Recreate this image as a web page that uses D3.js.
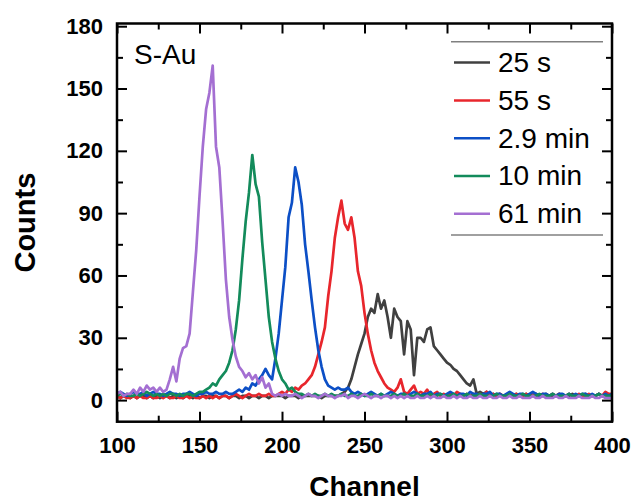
<!DOCTYPE html>
<html><head><meta charset="utf-8">
<script src="https://cdn.jsdelivr.net/npm/d3@7/dist/d3.min.js"></script>
<style>
html,body{margin:0;padding:0;background:#fff;}
svg{display:block;font-family:"Liberation Sans",Arial,Helvetica,sans-serif;}
</style></head>
<body><svg id="chart" width="634" height="504"></svg>
<script>
// Channel grid (step 2)
const channels = d3.range(100, 401, 2);
const seriesNames = ["25 s", "55 s", "2.9 min", "10 min", "61 min"];
const seriesColors = ["#404040", "#e8262c", "#0c4fc6", "#138b5b", "#a46fd2"];
const xTicks = [100, 150, 200, 250, 300, 350, 400];
const xMinorTicks = [125, 175, 225, 275, 325, 375];
const yTicks = [0, 30, 60, 90, 120, 150, 180];
const yMinorTicks = [15, 45, 75, 105, 135, 165];

const counts25s = [
  2,1,2,2,1,2,1,2,2,1,
  2,1,2,1,2,2,1,2,1,2,
  1,2,2,1,2,1,2,2,1,2,
  2,1,2,2,1,2,2,1,2,2,
  1,2,2,1,2,2,1,2,2,2,
  2,1,2,2,2,1,2,2,2,2,
  2,2,1,2,2,2,2,2,3,4,
  6,10,16,22,27,32,40,44,42,51,
  44,48,40,30,44,40,38,22,38,34,
  12,30,30,28,34,35,26,24,22,20,
  18,17,15,14,12,10,8,7,10,3,
  4,3,4,2,3,2,3,2,2,3,
  2,3,2,2,3,2,2,3,2,2,
  3,2,2,2,3,2,2,2,3,2,
  2,2,3,2,2,2,3,2,2,2,
  2];
const counts55s = [
  2,1,2,1,1,2,1,2,1,1,
  2,1,1,2,1,2,1,1,2,1,
  1,2,1,2,1,1,2,1,2,1,
  2,1,2,2,1,2,3,2,1,2,
  3,2,2,3,2,2,3,2,2,3,
  4,3,5,4,6,5,7,8,10,12,
  16,22,28,35,50,62,78,88,96,85,
  82,88,78,62,55,42,32,24,18,14,
  11,8,6,5,4,6,10,4,3,5,
  7,3,4,3,5,2,3,4,2,3,
  2,3,2,4,3,2,3,2,3,2,
  3,2,4,2,3,2,3,2,2,3,
  2,3,2,2,3,2,3,2,2,3,
  2,2,3,2,3,2,2,3,2,2,
  3,2,2,3,2,2,3,2,4,3,
  3];
const counts29min = [
  3,4,3,2,3,4,3,3,4,2,
  3,4,3,3,2,3,4,3,3,2,
  3,3,4,3,2,3,3,4,3,3,
  4,3,3,4,3,3,4,5,4,6,
  5,8,7,10,12,15,12,10,20,32,
  48,64,88,95,112,105,94,75,62,48,
  35,24,16,10,7,6,5,6,5,5,
  6,4,3,4,3,2,3,4,3,2,
  3,2,3,4,3,2,3,3,2,3,
  4,3,2,3,3,4,2,3,3,2,
  3,4,3,2,3,3,2,4,3,3,
  2,3,3,4,2,3,3,2,3,4,
  3,2,3,3,2,3,4,3,2,3,
  3,2,3,2,3,3,2,3,2,3,
  2,3,3,2,3,2,3,2,3,2,
  3];
const counts10min = [
  2,3,2,3,2,2,3,2,3,4,
  3,2,3,2,3,2,3,3,2,3,
  2,3,3,2,3,4,4,5,6,8,
  7,10,12,14,18,24,34,48,68,86,
  100,118,104,98,76,58,40,28,20,14,
  10,8,5,6,4,3,3,2,3,2,
  3,2,2,3,2,3,2,2,3,2,
  2,3,2,2,3,2,2,3,2,2,
  3,2,2,2,3,2,2,3,2,2,
  2,3,2,2,2,3,2,2,3,2,
  2,2,3,2,2,2,3,2,2,2,
  3,2,2,2,2,3,2,2,2,3,
  2,2,2,3,2,2,2,2,3,2,
  2,2,3,2,2,2,2,3,2,2,
  2,3,2,2,2,2,3,2,2,2,
  2];
const counts61min = [
  3,4,2,3,3,5,3,6,4,7,
  5,6,4,6,4,5,10,16,9,20,
  25,26,32,52,72,98,122,140,148,161,
  122,112,86,58,40,29,21,16,14,11,
  13,10,12,8,11,6,8,3,2,3,
  2,3,2,2,3,2,1,2,3,2,
  2,1,2,3,2,2,1,2,2,3,
  1,2,2,1,2,3,2,1,2,2,
  1,2,2,1,2,1,2,1,2,1,
  1,2,1,1,2,1,2,1,1,2,
  1,1,2,1,2,1,1,2,1,1,
  2,1,1,2,1,1,2,1,1,2,
  1,1,2,1,1,1,2,1,1,2,
  1,1,1,2,1,1,2,1,1,1,
  2,1,1,1,2,1,1,2,1,1,
  1];
const seriesValues = [counts25s, counts55s, counts29min, counts10min, counts61min];

const svg = d3.select("#chart");
const L = 117, R = 612, T = 23.5, B = 421.7;
const x = d3.scaleLinear().domain([100, 400]).range([L, R]);
const y = d3.scaleLinear().domain([-10.4, 181.3]).range([B, T]);

// lines
const clipId = "plotclip";
svg.append("clipPath").attr("id", clipId).append("rect")
  .attr("x", L).attr("y", T).attr("width", R - L).attr("height", B - T);
const line = d3.line().x((d, i) => x(channels[i])).y(d => y(d));
const g = svg.append("g").attr("clip-path", `url(#${clipId})`);
seriesValues.forEach((vals, k) => {
  g.append("path").datum(vals)
    .attr("d", line)
    .attr("fill", "none")
    .attr("stroke", seriesColors[k])
    .attr("stroke-width", 2.7)
    .attr("stroke-linejoin", "round");
});

// axes
function styleAxis(sel) {
  sel.select(".domain").remove();
  sel.selectAll(".tick line").attr("stroke", "#000").attr("stroke-width", 2);
  sel.selectAll(".tick text").attr("fill", "#000")
    .style("font-family", '"Liberation Sans",Arial,sans-serif')
    .style("font-weight", "bold").style("font-size", "22px");
}
svg.append("g").attr("transform", `translate(0,${B})`)
  .call(d3.axisBottom(x).tickValues(xTicks).tickSize(-10).tickPadding(16).tickFormat(d3.format("d")))
  .call(styleAxis);
svg.append("g").attr("transform", `translate(0,${B})`)
  .call(d3.axisBottom(x).tickValues(xMinorTicks).tickSize(-6).tickFormat(""))
  .call(styleAxis);
svg.append("g").attr("transform", `translate(0,${T})`)
  .call(d3.axisTop(x).tickValues(xTicks).tickSize(-10).tickFormat(""))
  .call(styleAxis);
svg.append("g").attr("transform", `translate(0,${T})`)
  .call(d3.axisTop(x).tickValues(xMinorTicks).tickSize(-6).tickFormat(""))
  .call(styleAxis);
svg.append("g").attr("transform", `translate(${L},0)`)
  .call(d3.axisLeft(y).tickValues(yTicks).tickSize(-10).tickPadding(14).tickFormat(d3.format("d")))
  .call(styleAxis);
svg.append("g").attr("transform", `translate(${L},0)`)
  .call(d3.axisLeft(y).tickValues(yMinorTicks).tickSize(-6).tickFormat(""))
  .call(styleAxis);
svg.append("g").attr("transform", `translate(${R},0)`)
  .call(d3.axisRight(y).tickValues(yTicks).tickSize(-10).tickFormat(""))
  .call(styleAxis);
svg.append("g").attr("transform", `translate(${R},0)`)
  .call(d3.axisRight(y).tickValues(yMinorTicks).tickSize(-6).tickFormat(""))
  .call(styleAxis);

// frame
svg.append("rect").attr("x", L).attr("y", T).attr("width", R - L).attr("height", B - T)
  .attr("fill", "none").attr("stroke", "#000").attr("stroke-width", 2.5);

// axis titles
svg.append("text").attr("x", (L + R) / 2).attr("y", 496)
  .attr("text-anchor", "middle").style("font-weight", "bold").style("font-size", "28px")
  .text("Channel");
svg.append("text").attr("transform", `translate(35,${(T + B) / 2}) rotate(-90)`)
  .attr("text-anchor", "middle").style("font-weight", "bold").style("font-size", "29px")
  .text("Counts");

// annotation
svg.append("text").attr("x", 134).attr("y", 64).style("font-size", "28px").text("S-Au");

// legend
const lg = svg.append("g");
lg.append("line").attr("x1", 451).attr("x2", 603).attr("y1", 41.7).attr("y2", 41.7)
  .attr("stroke", "#808080").attr("stroke-width", 1.5);
lg.append("line").attr("x1", 451).attr("x2", 603).attr("y1", 235).attr("y2", 235)
  .attr("stroke", "#808080").attr("stroke-width", 1.5);
seriesNames.forEach((name, k) => {
  const by = 72 + k * 37.8;
  lg.append("line").attr("x1", 454).attr("x2", 490).attr("y1", by - 9.4).attr("y2", by - 9.4)
    .attr("stroke", seriesColors[k]).attr("stroke-width", 2.5);
  lg.append("text").attr("x", 498).attr("y", by).style("font-size", "28px").text(name);
});
</script></body></html>
